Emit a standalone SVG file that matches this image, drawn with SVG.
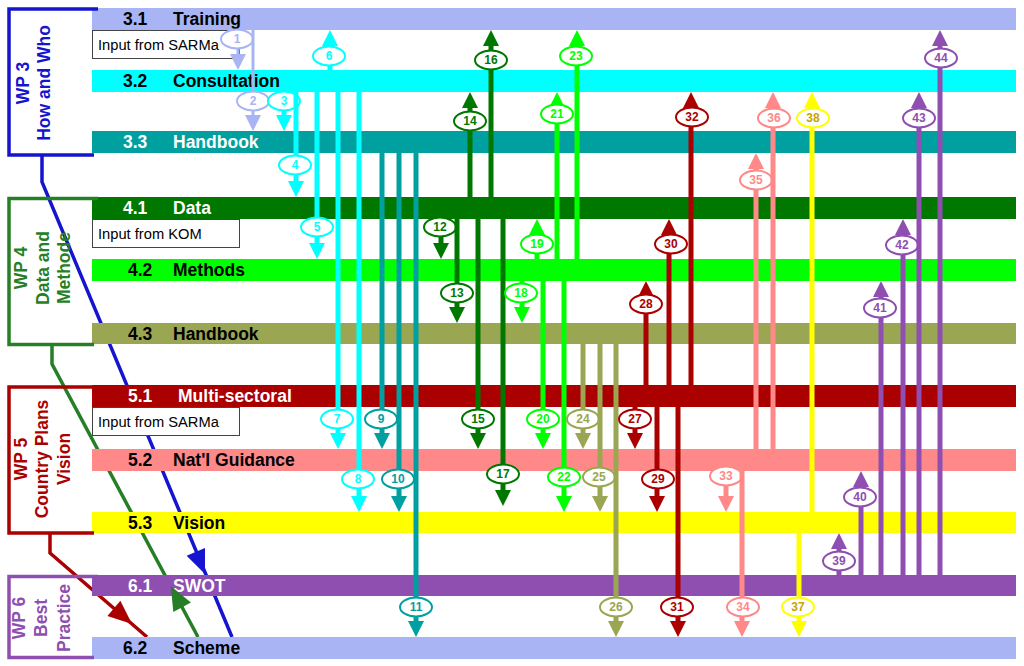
<svg xmlns="http://www.w3.org/2000/svg" width="1024" height="666" viewBox="0 0 1024 666">
<style>
.bt{font-family:"Liberation Sans",Arial,sans-serif;font-weight:bold;font-size:17.5px}
.w{fill:#fff}.k{fill:#000}
.inp rect{fill:#fff;stroke:#444;stroke-width:1}
.inp text{font-family:"Liberation Sans",Arial,sans-serif;font-size:14.7px;fill:#000}
.wp path,.conn polyline{fill:none;stroke-width:3.5}
.wp text{font-family:"Liberation Sans",Arial,sans-serif;font-weight:bold;font-size:17.5px;text-anchor:middle}
.a line{stroke:currentColor;stroke-width:5}
.a polygon{fill:currentColor}
.a ellipse{fill:#fff;stroke:currentColor;stroke-width:2}
.a text{fill:currentColor;font-family:"Liberation Sans",Arial,sans-serif;font-weight:bold;font-size:12px;text-anchor:middle}
.pe{color:#a9b4f5}.pe line{stroke-width:3}
.cy{color:#00ffff}.te{color:#00a0a0}.dg{color:#007800}.gr{color:#00ff00}.ol{color:#9aa652}
.dr{color:#aa0000}.sa{color:#ff8888}.ye{color:#ffff00}.ye text{fill:#c8a400}.pu{color:#8e4fb0}
</style>
<rect width="1024" height="666" fill="#fff"/>
<g id="wp-connectors" class="conn">
<polyline points="42,155 42,182 232,637" stroke="#1515d0" stroke-width="3"/>
<polyline points="52,344 52,364 198,637" stroke="#267f26" stroke-width="3"/>
<polyline points="50,533 50,553 147,637" stroke="#aa0000" stroke-width="3"/>
</g>
<g id="bars">
<g id="b31"><rect x="92" y="8" width="924" height="22" fill="#a9b4f5"/><text class="bt k" x="123" y="25">3.1</text><text class="bt k" x="173" y="25">Training</text></g>
<g id="b32"><rect x="92" y="70" width="924" height="22" fill="#00ffff"/><text class="bt k" x="123" y="87">3.2</text><text class="bt k" x="173" y="87">Consultation</text></g>
<g id="b33"><rect x="92" y="131" width="924" height="22" fill="#00a0a0"/><text class="bt w" x="123" y="148">3.3</text><text class="bt w" x="173" y="148">Handbook</text></g>
<g id="b41"><rect x="92" y="197" width="924" height="22" fill="#007800"/><text class="bt w" x="123" y="214">4.1</text><text class="bt w" x="173" y="214">Data</text></g>
<g id="b42"><rect x="92" y="259" width="924" height="22" fill="#00ff00"/><text class="bt k" x="128" y="276">4.2</text><text class="bt k" x="173" y="276">Methods</text></g>
<g id="b43"><rect x="92" y="323" width="924" height="21" fill="#9aa652"/><text class="bt k" x="128" y="340">4.3</text><text class="bt k" x="173" y="340">Handbook</text></g>
<g id="b51"><rect x="92" y="385" width="924" height="22" fill="#aa0000"/><text class="bt w" x="128" y="402">5.1</text><text class="bt w" x="178" y="402">Multi-sectoral</text></g>
<g id="b52"><rect x="92" y="449" width="924" height="22" fill="#ff8888"/><text class="bt k" x="128" y="466">5.2</text><text class="bt k" x="173" y="466">Nat'l Guidance</text></g>
<g id="b53"><rect x="92" y="512" width="924" height="21" fill="#ffff00"/><text class="bt k" x="128" y="529">5.3</text><text class="bt k" x="173" y="529">Vision</text></g>
<g id="b61"><rect x="92" y="575" width="924" height="21" fill="#8e4fb0"/><text class="bt w" x="128" y="592">6.1</text><text class="bt w" x="173" y="592">SWOT</text></g>
<g id="b62"><rect x="92" y="637" width="924" height="22" fill="#a9b4f5"/><text class="bt k" x="123" y="654">6.2</text><text class="bt k" x="173" y="654">Scheme</text></g>
</g>
<g id="inputs" class="inp">
<g id="in1"><rect x="92.5" y="30.5" width="147" height="28"/><text x="98" y="49.5">Input from SARMa</text></g>
<g id="in2"><rect x="92.5" y="219.5" width="147" height="28"/><text x="98" y="238.5">Input from KOM</text></g>
<g id="in3"><rect x="92.5" y="407.5" width="147" height="28"/><text x="98" y="426.5">Input from SARMa</text></g>
</g>
<g id="wp3" class="wp"><path d="M98,9 H9 V155 H94" stroke="#1515d0"/><g fill="#1515d0"><text transform="translate(29,83) rotate(-90)">WP 3</text><text transform="translate(50,83) rotate(-90)">How and Who</text></g></g>
<g id="wp4" class="wp"><path d="M98,198.5 H9 V344.5 H94" stroke="#267f26"/><g fill="#267f26"><text transform="translate(27,268) rotate(-90)">WP 4</text><text transform="translate(49,268) rotate(-90)">Data and</text><text transform="translate(70,268) rotate(-90)">Methode</text></g></g>
<g id="wp5" class="wp"><path d="M98,387 H9 V533 H94" stroke="#aa0000"/><g fill="#aa0000"><text transform="translate(27,459) rotate(-90)">WP 5</text><text transform="translate(48,459) rotate(-90)">Country Plans</text><text transform="translate(70,459) rotate(-90)">Vision</text></g></g>
<g id="wp6" class="wp"><path d="M98,576.5 H9 V657.5 H94" stroke="#8e4fb0"/><g fill="#8e4fb0"><text transform="translate(25,618) rotate(-90)">WP 6</text><text transform="translate(47,618) rotate(-90)">Best</text><text transform="translate(70,618) rotate(-90)">Practice</text></g></g>
<g id="wp-arrowheads">
<polygon points="205,574 205,548 186.6,555.7" fill="#1515d0"/>
<polygon points="170.8,586 190.9,602.5 173.3,611.9" fill="#267f26"/>
<polygon points="132,624 120.4,600.7 107.4,615.9" fill="#aa0000"/>
</g>
<g id="connectors">
<g id="a1" class="a pe"><line x1="238" y1="30" x2="238" y2="55"/><polygon points="230,54 246,54 238,70"/><ellipse cx="237" cy="39" rx="16" ry="9.5"/><text x="237" y="43">1</text></g>
<g id="a2" class="a pe"><line x1="253" y1="30" x2="253" y2="116"/><polygon points="245,115 261,115 253,131"/><ellipse cx="253" cy="101" rx="16" ry="9.5"/><text x="253" y="105">2</text></g>
<g id="a3" class="a cy"><line x1="284" y1="92" x2="284" y2="116"/><polygon points="276,115 292,115 284,131"/><ellipse cx="284" cy="101" rx="16" ry="9.5"/><text x="284" y="105">3</text></g>
<g id="a4" class="a cy"><line x1="296" y1="92" x2="296" y2="182"/><polygon points="288,181 304,181 296,197"/><ellipse cx="295" cy="165" rx="16" ry="9.5"/><text x="295" y="169">4</text></g>
<g id="a5" class="a cy"><line x1="317" y1="92" x2="317" y2="244"/><polygon points="309,243 325,243 317,259"/><ellipse cx="317" cy="227" rx="16" ry="9.5"/><text x="317" y="231">5</text></g>
<g id="a6" class="a cy"><line x1="330" y1="70" x2="330" y2="45"/><polygon points="322,46 338,46 330,30"/><ellipse cx="329" cy="56" rx="16" ry="9.5"/><text x="329" y="60">6</text></g>
<g id="a7" class="a cy"><line x1="338" y1="92" x2="338" y2="434"/><polygon points="330,433 346,433 338,449"/><ellipse cx="337" cy="419" rx="16" ry="9.5"/><text x="337" y="423">7</text></g>
<g id="a8" class="a cy"><line x1="359" y1="92" x2="359" y2="497"/><polygon points="351,496 367,496 359,512"/><ellipse cx="358" cy="479" rx="16" ry="9.5"/><text x="358" y="483">8</text></g>
<g id="a9" class="a te"><line x1="382" y1="153" x2="382" y2="434"/><polygon points="374,433 390,433 382,449"/><ellipse cx="381" cy="419" rx="16" ry="9.5"/><text x="381" y="423">9</text></g>
<g id="a10" class="a te"><line x1="399" y1="153" x2="399" y2="497"/><polygon points="391,496 407,496 399,512"/><ellipse cx="398" cy="479" rx="16" ry="9.5"/><text x="398" y="483">10</text></g>
<g id="a11" class="a te"><line x1="416" y1="153" x2="416" y2="622"/><polygon points="408,621 424,621 416,637"/><ellipse cx="416" cy="607" rx="16" ry="9.5"/><text x="416" y="611">11</text></g>
<g id="a12" class="a dg"><line x1="441" y1="219" x2="441" y2="244"/><polygon points="433,243 449,243 441,259"/><ellipse cx="440" cy="227" rx="16" ry="9.5"/><text x="440" y="231">12</text></g>
<g id="a13" class="a dg"><line x1="457" y1="219" x2="457" y2="308"/><polygon points="449,307 465,307 457,323"/><ellipse cx="457" cy="293" rx="16" ry="9.5"/><text x="457" y="297">13</text></g>
<g id="a14" class="a dg"><line x1="470" y1="197" x2="470" y2="107"/><polygon points="462,108 478,108 470,92"/><ellipse cx="470" cy="121" rx="16" ry="9.5"/><text x="470" y="125">14</text></g>
<g id="a15" class="a dg"><line x1="478" y1="219" x2="478" y2="434"/><polygon points="470,433 486,433 478,449"/><ellipse cx="478" cy="419" rx="16" ry="9.5"/><text x="478" y="423">15</text></g>
<g id="a16" class="a dg"><line x1="491" y1="197" x2="491" y2="45"/><polygon points="483,46 499,46 491,30"/><ellipse cx="491" cy="60" rx="16" ry="9.5"/><text x="491" y="64">16</text></g>
<g id="a17" class="a dg"><line x1="503" y1="219" x2="503" y2="491"/><polygon points="495,490 511,490 503,506"/><ellipse cx="503" cy="474" rx="16" ry="9.5"/><text x="503" y="478">17</text></g>
<g id="a18" class="a gr"><line x1="522" y1="281" x2="522" y2="308"/><polygon points="514,307 530,307 522,323"/><ellipse cx="521" cy="293" rx="16" ry="9.5"/><text x="521" y="297">18</text></g>
<g id="a19" class="a gr"><line x1="537" y1="259" x2="537" y2="234"/><polygon points="529,235 545,235 537,219"/><ellipse cx="537" cy="244" rx="16" ry="9.5"/><text x="537" y="248">19</text></g>
<g id="a20" class="a gr"><line x1="543" y1="281" x2="543" y2="434"/><polygon points="535,433 551,433 543,449"/><ellipse cx="543" cy="419" rx="16" ry="9.5"/><text x="543" y="423">20</text></g>
<g id="a21" class="a gr"><line x1="557" y1="259" x2="557" y2="107"/><polygon points="549,108 565,108 557,92"/><ellipse cx="557" cy="114" rx="16" ry="9.5"/><text x="557" y="118">21</text></g>
<g id="a22" class="a gr"><line x1="564" y1="281" x2="564" y2="497"/><polygon points="556,496 572,496 564,512"/><ellipse cx="564" cy="477" rx="16" ry="9.5"/><text x="564" y="481">22</text></g>
<g id="a23" class="a gr"><line x1="577" y1="259" x2="577" y2="45"/><polygon points="569,46 585,46 577,30"/><ellipse cx="576" cy="56" rx="16" ry="9.5"/><text x="576" y="60">23</text></g>
<g id="a24" class="a ol"><line x1="583" y1="344" x2="583" y2="434"/><polygon points="575,433 591,433 583,449"/><ellipse cx="583" cy="419" rx="16" ry="9.5"/><text x="583" y="423">24</text></g>
<g id="a25" class="a ol"><line x1="600" y1="344" x2="600" y2="497"/><polygon points="592,496 608,496 600,512"/><ellipse cx="599" cy="477" rx="16" ry="9.5"/><text x="599" y="481">25</text></g>
<g id="a26" class="a ol"><line x1="616" y1="344" x2="616" y2="622"/><polygon points="608,621 624,621 616,637"/><ellipse cx="616" cy="607" rx="16" ry="9.5"/><text x="616" y="611">26</text></g>
<g id="a27" class="a dr"><line x1="635" y1="407" x2="635" y2="434"/><polygon points="627,433 643,433 635,449"/><ellipse cx="635" cy="419" rx="16" ry="9.5"/><text x="635" y="423">27</text></g>
<g id="a28" class="a dr"><line x1="646" y1="385" x2="646" y2="296"/><polygon points="638,297 654,297 646,281"/><ellipse cx="646" cy="304" rx="16" ry="9.5"/><text x="646" y="308">28</text></g>
<g id="a29" class="a dr"><line x1="657" y1="407" x2="657" y2="497"/><polygon points="649,496 665,496 657,512"/><ellipse cx="658" cy="479" rx="16" ry="9.5"/><text x="658" y="483">29</text></g>
<g id="a30" class="a dr"><line x1="669" y1="385" x2="669" y2="234"/><polygon points="661,235 677,235 669,219"/><ellipse cx="671" cy="244" rx="16" ry="9.5"/><text x="671" y="248">30</text></g>
<g id="a31" class="a dr"><line x1="678" y1="407" x2="678" y2="622"/><polygon points="670,621 686,621 678,637"/><ellipse cx="677" cy="607" rx="16" ry="9.5"/><text x="677" y="611">31</text></g>
<g id="a32" class="a dr"><line x1="691" y1="385" x2="691" y2="107"/><polygon points="683,108 699,108 691,92"/><ellipse cx="692" cy="117" rx="16" ry="9.5"/><text x="692" y="121">32</text></g>
<g id="a33" class="a sa"><line x1="726" y1="471" x2="726" y2="497"/><polygon points="718,496 734,496 726,512"/><ellipse cx="726" cy="476" rx="16" ry="9.5"/><text x="726" y="480">33</text></g>
<g id="a34" class="a sa"><line x1="742" y1="471" x2="742" y2="622"/><polygon points="734,621 750,621 742,637"/><ellipse cx="743" cy="607" rx="16" ry="9.5"/><text x="743" y="611">34</text></g>
<g id="a35" class="a sa"><line x1="756" y1="449" x2="756" y2="168"/><polygon points="748,169 764,169 756,153"/><ellipse cx="756" cy="180" rx="16" ry="9.5"/><text x="756" y="184">35</text></g>
<g id="a36" class="a sa"><line x1="773" y1="449" x2="773" y2="107"/><polygon points="765,108 781,108 773,92"/><ellipse cx="774" cy="118" rx="16" ry="9.5"/><text x="774" y="122">36</text></g>
<g id="a37" class="a ye"><line x1="799" y1="533" x2="799" y2="622"/><polygon points="791,621 807,621 799,637"/><ellipse cx="798" cy="607" rx="16" ry="9.5"/><text x="798" y="611">37</text></g>
<g id="a38" class="a ye"><line x1="812" y1="512" x2="812" y2="107"/><polygon points="804,108 820,108 812,92"/><ellipse cx="813" cy="118" rx="16" ry="9.5"/><text x="813" y="122">38</text></g>
<g id="a39" class="a pu"><line x1="839" y1="575" x2="839" y2="548"/><polygon points="831,549 847,549 839,533"/><ellipse cx="839" cy="561" rx="16" ry="9.5"/><text x="839" y="565">39</text></g>
<g id="a40" class="a pu"><line x1="861" y1="575" x2="861" y2="486"/><polygon points="853,487 869,487 861,471"/><ellipse cx="860" cy="497" rx="16" ry="9.5"/><text x="860" y="501">40</text></g>
<g id="a41" class="a pu"><line x1="881" y1="575" x2="881" y2="296"/><polygon points="873,297 889,297 881,281"/><ellipse cx="880" cy="308" rx="16" ry="9.5"/><text x="880" y="312">41</text></g>
<g id="a42" class="a pu"><line x1="903" y1="575" x2="903" y2="234"/><polygon points="895,235 911,235 903,219"/><ellipse cx="902" cy="245" rx="16" ry="9.5"/><text x="902" y="249">42</text></g>
<g id="a43" class="a pu"><line x1="919" y1="575" x2="919" y2="107"/><polygon points="911,108 927,108 919,92"/><ellipse cx="919" cy="118" rx="16" ry="9.5"/><text x="919" y="122">43</text></g>
<g id="a44" class="a pu"><line x1="940" y1="575" x2="940" y2="45"/><polygon points="932,46 948,46 940,30"/><ellipse cx="941" cy="58" rx="16" ry="9.5"/><text x="941" y="62">44</text></g>
</g>
</svg>
